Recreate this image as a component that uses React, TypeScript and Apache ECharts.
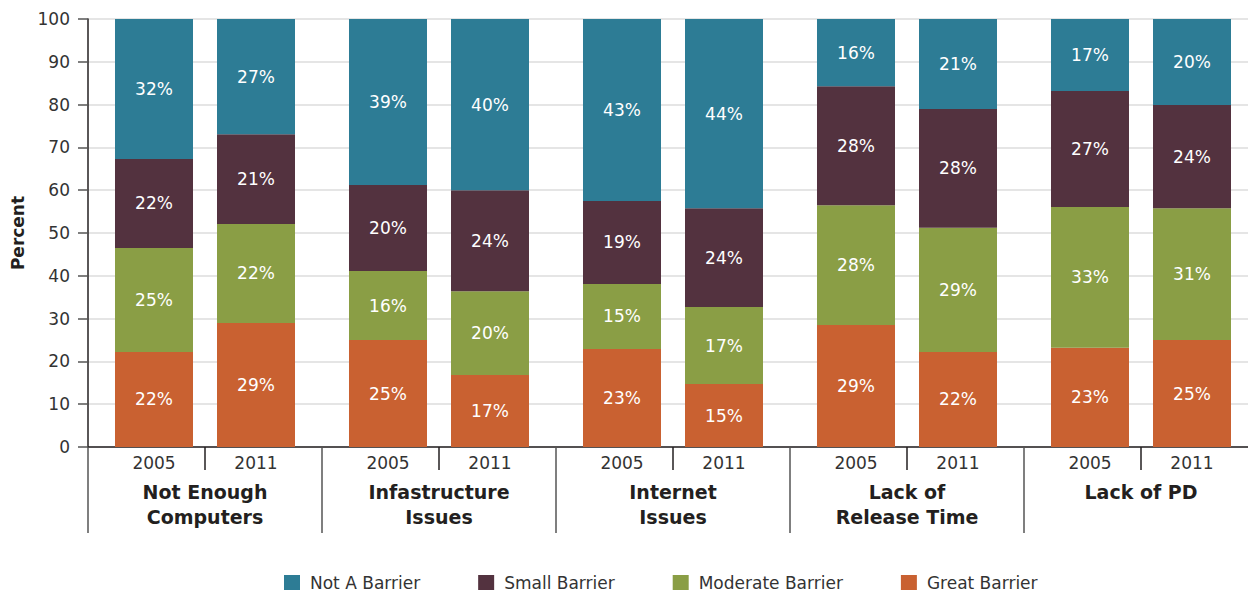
import React, { useEffect, useRef } from "react";
import * as echarts from "echarts";

const groups = ["Not Enough\nComputers", "Infastructure\nIssues", "Internet\nIssues", "Lack of\nRelease Time", "Lack of PD"];
const years = ["2005", "2011"];
const segments = ["Great Barrier", "Moderate Barrier", "Small Barrier", "Not A Barrier"];
const legendOrder = ["Not A Barrier", "Small Barrier", "Moderate Barrier", "Great Barrier"];
const colors = ["#c96131", "#8a9e45", "#53323f", "#2d7c95"];

// measured segment heights (percent), per year, per segment, per group
const great2005 = [22.2, 25.0, 22.9, 28.5, 23.2];
const moderate2005 = [24.3, 16.1, 15.2, 28.0, 32.9];
const small2005 = [20.8, 20.1, 19.4, 27.8, 27.1];
const notA2005 = [32.7, 38.8, 42.5, 15.7, 16.8];
const great2011 = [29.0, 16.8, 14.7, 22.2, 25.0];
const moderate2011 = [23.1, 19.6, 18.0, 29.0, 30.8];
const small2011 = [21.0, 23.6, 23.1, 27.8, 24.1];
const notA2011 = [26.9, 40.0, 44.2, 21.0, 20.1];

// printed labels
const greatLbl2005 = [22, 25, 23, 29, 23];
const moderateLbl2005 = [25, 16, 15, 28, 33];
const smallLbl2005 = [22, 20, 19, 28, 27];
const notALbl2005 = [32, 39, 43, 16, 17];
const greatLbl2011 = [29, 17, 15, 22, 25];
const moderateLbl2011 = [22, 20, 17, 29, 31];
const smallLbl2011 = [21, 24, 24, 28, 24];
const notALbl2011 = [27, 40, 44, 21, 20];

const values = [
  [great2005, moderate2005, small2005, notA2005],
  [great2011, moderate2011, small2011, notA2011],
];
const labels = [
  [greatLbl2005, moderateLbl2005, smallLbl2005, notALbl2005],
  [greatLbl2011, moderateLbl2011, smallLbl2011, notALbl2011],
];

const yTicks = { min: 0, max: 100, interval: 10 };
const FONT = "DejaVu Sans";

export default function App() {
  const ref = useRef<HTMLDivElement>(null);
  useEffect(() => {
    if (!ref.current) return;
    const chart = echarts.init(ref.current, null, { renderer: "svg" });
    const series: any[] = [];
    years.forEach((yr, yi) => {
      segments.forEach((seg, si) => {
        const lbl = labels[yi][si];
        series.push({
          type: "bar",
          name: seg,
          stack: yr,
          xAxisIndex: 0,
          barWidth: 78,
          barGap: "30.77%",
          data: values[yi][si],
          itemStyle: { color: colors[si] },
          label: {
            show: true,
            position: "inside",
            color: "#ffffff",
            fontFamily: FONT,
            fontSize: 17,
            formatter: (p: any) => lbl[p.dataIndex] + "%",
          },
        });
      });
    });
    chart.setOption({
      animation: false,
      textStyle: { fontFamily: FONT },
      grid: { left: 88, top: 19, width: 1170, height: 428, containLabel: false },
      legend: {
        data: legendOrder,
        left: 284,
        top: 574,
        padding: 0,
        icon: "rect",
        itemWidth: 16,
        itemHeight: 15,
        itemGap: 58,
        textStyle: { fontFamily: FONT, fontSize: 17, lineHeight: 16, color: "#333", padding: [0, 0, 0, 5] },
      },
      xAxis: [
        {
          type: "category",
          position: "bottom",
          data: groups,
          axisLine: { show: true, lineStyle: { color: "#231f20", width: 1.5 } },
          axisTick: { show: true, length: 86, interval: 0, lineStyle: { color: "#555", width: 1.5 } },
          axisLabel: {
            interval: 0,
            margin: 0,
            formatter: (v: string) => {
              const parts = v.split("\n").map((s) => `{g|${s}}`).join("\n");
              return `{y|${years[0]}}{y|${years[1]}}\n${parts}`;
            },
            rich: {
              y: { width: 102, align: "center", fontSize: 17, lineHeight: 32, color: "#333", fontFamily: FONT },
              g: { align: "center", fontSize: 19, fontWeight: "bold", lineHeight: 25, color: "#231f20", fontFamily: FONT },
            },
          },
        },
        {
          type: "category",
          position: "bottom",
          data: groups,
          axisLine: { show: false },
          axisTick: { show: true, length: 23, alignWithLabel: true, interval: 0, lineStyle: { color: "#231f20", width: 1.5 } },
          axisLabel: { show: false },
        },
      ],
      yAxis: {
        type: "value",
        min: yTicks.min,
        max: yTicks.max,
        interval: yTicks.interval,
        name: "Percent",
        nameLocation: "middle",
        nameGap: 62,
        nameTextStyle: { fontFamily: FONT, fontSize: 17, fontWeight: "bold", color: "#231f20" },
        axisLine: { show: true, lineStyle: { color: "#231f20", width: 1.5 } },
        axisTick: { show: true, length: 10, lineStyle: { color: "#555", width: 1.5 } },
        axisLabel: { margin: 18, fontSize: 17, color: "#333", fontFamily: FONT },
        splitLine: { show: true, lineStyle: { color: "#dcdcdc", width: 1.5 } },
      },
      series,
    });
    return () => chart.dispose();
  }, []);
  return (
    <div style={{ position: "absolute", left: 0, top: 0, width: 1248, height: 592, overflow: "hidden" }}>
      <div ref={ref} style={{ width: 1262, height: 592 }} />
    </div>
  );
}
